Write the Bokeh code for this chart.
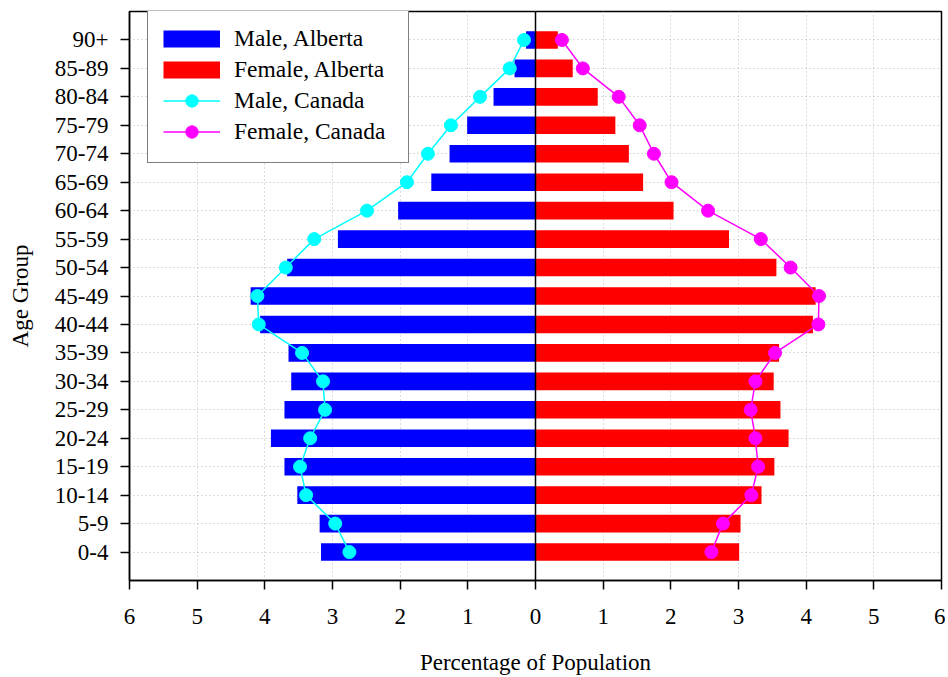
from bokeh.plotting import figure
from bokeh.models import Range1d, FixedTicker, Span, Legend, LegendItem, ColumnDataSource
from bokeh.embed import file_html
from bokeh.resources import INLINE

age_groups = ["0-4", "5-9", "10-14", "15-19", "20-24", "25-29", "30-34", "35-39",
              "40-44", "45-49", "50-54", "55-59", "60-64", "65-69", "70-74",
              "75-79", "80-84", "85-89", "90+"]
male_alberta = [3.17, 3.19, 3.52, 3.71, 3.91, 3.71, 3.61, 3.65, 4.07, 4.21,
                3.67, 2.92, 2.03, 1.54, 1.27, 1.01, 0.62, 0.31, 0.14]
female_alberta = [3.01, 3.03, 3.34, 3.53, 3.74, 3.62, 3.52, 3.60, 4.10, 4.14,
                  3.56, 2.86, 2.04, 1.59, 1.38, 1.18, 0.92, 0.55, 0.33]
male_canada = [2.75, 2.96, 3.39, 3.48, 3.33, 3.11, 3.14, 3.45, 4.09, 4.11,
               3.69, 3.27, 2.49, 1.90, 1.59, 1.25, 0.82, 0.38, 0.17]
female_canada = [2.60, 2.77, 3.19, 3.29, 3.25, 3.18, 3.25, 3.54, 4.18, 4.19,
                 3.77, 3.33, 2.55, 2.01, 1.75, 1.54, 1.23, 0.70, 0.39]
x_ticks = [-6, -5, -4, -3, -2, -1, 0, 1, 2, 3, 4, 5, 6]
x_tick_labels = ["6", "5", "4", "3", "2", "1", "0", "1", "2", "3", "4", "5", "6"]

FONT = "Liberation Serif"
FS = "23px"
BLUE, RED, CYAN, MAGENTA = "#0000ff", "#ff0000", "#00ffff", "#ff00ff"

ypos = list(range(len(age_groups)))
src = ColumnDataSource(dict(
    y=ypos,
    ma=[-v for v in male_alberta],
    fa=female_alberta,
    mc=[-v for v in male_canada],
    fc=female_canada,
))

p = figure(width=945, height=677, output_backend="svg", toolbar_location=None,
           x_range=Range1d(-6, 6), y_range=Range1d(-1, len(age_groups)),
           min_border_left=129, min_border_right=4, min_border_top=11,
           min_border_bottom=97)
p.background_fill_color = "white"
p.border_fill_color = "white"
p.outline_line_color = "black"
p.outline_line_width = 1.5

# grids
p.xgrid.ticker = FixedTicker(ticks=x_ticks)
p.ygrid.ticker = FixedTicker(ticks=ypos)
for g in (p.xgrid, p.ygrid):
    g.grid_line_color = "#b8b8b8"
    g.grid_line_dash = "1 3"
    g.grid_line_width = 1

# axes
p.xaxis.ticker = FixedTicker(ticks=x_ticks)
p.xaxis.major_label_overrides = {t: l for t, l in zip(x_ticks, x_tick_labels)}
p.yaxis.ticker = FixedTicker(ticks=ypos)
p.yaxis.major_label_overrides = {i: a for i, a in zip(ypos, age_groups)}
p.xaxis.axis_label = "Percentage of Population"
p.yaxis.axis_label = "Age Group"
for ax in (p.xaxis, p.yaxis):
    ax.major_label_text_font = FONT
    ax.major_label_text_font_size = FS
    ax.major_label_text_color = "black"
    ax.axis_label_text_font = FONT
    ax.axis_label_text_font_size = FS
    ax.axis_label_text_font_style = "normal"
    ax.axis_label_text_color = "black"
    ax.axis_line_color = "black"
    ax.axis_line_width = 1.5
    ax.major_tick_line_color = "black"
    ax.major_tick_line_width = 1.5
    ax.major_tick_out = 9
    ax.major_tick_in = 0
    ax.minor_tick_line_color = None
p.xaxis.major_label_standoff = 19
p.xaxis.axis_label_standoff = 23
p.yaxis.major_label_standoff = 12
p.yaxis.axis_label_standoff = 19

# bars
r_ma = p.hbar(y="y", left="ma", right=0, height=0.62, source=src,
              fill_color=BLUE, line_color=None)
r_fa = p.hbar(y="y", left=0, right="fa", height=0.62, source=src,
              fill_color=RED, line_color=None)

# lines with markers
l_mc = p.line(x="mc", y="y", source=src, line_color=CYAN, line_width=1.5)
c_mc = p.scatter(x="mc", y="y", source=src, size=13, fill_color=CYAN,
                 line_color=CYAN)
l_fc = p.line(x="fc", y="y", source=src, line_color=MAGENTA, line_width=1.5)
c_fc = p.scatter(x="fc", y="y", source=src, size=13, fill_color=MAGENTA,
                 line_color=MAGENTA)

p.add_layout(Span(location=0, dimension="height", line_color="black", line_width=1.5))

# legend swatches for the bars (thick lines that draw nothing in the plot)
nan = float("nan")
sw_ma = p.line(x=[nan, nan], y=[nan, nan], line_color=BLUE, line_width=17)
sw_fa = p.line(x=[nan, nan], y=[nan, nan], line_color=RED, line_width=17)

legend = Legend(items=[
    LegendItem(label="Male, Alberta", renderers=[sw_ma]),
    LegendItem(label="Female, Alberta", renderers=[sw_fa]),
    LegendItem(label="Male, Canada", renderers=[l_mc, c_mc]),
    LegendItem(label="Female, Canada", renderers=[l_fc, c_fc]),
], location=(18, 417))
legend.label_text_font = FONT
legend.label_text_font_size = "23.5px"
legend.label_text_color = "black"
legend.glyph_width = 57
legend.glyph_height = 31
legend.label_standoff = 14
legend.label_width = 159
legend.padding = 15
legend.spacing = 0
legend.margin = 0
legend.border_line_color = "black"
legend.border_line_width = 1.2
legend.background_fill_color = "white"
legend.background_fill_alpha = 1.0
p.add_layout(legend)

open("out.html", "w").write(file_html(p, INLINE))
